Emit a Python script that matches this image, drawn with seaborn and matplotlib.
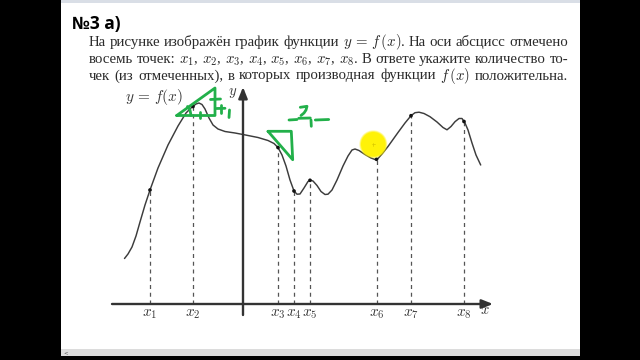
import matplotlib
matplotlib.use("Agg")
import matplotlib.pyplot as plt
import seaborn as sns
import pandas as pd
from matplotlib.patches import Rectangle, Circle

# ---------------- data (function units, 1 unit = 10 px of the picture) ----
curve_x = [-11.85, -11.5, -11.1, -10.7, -10.3, -9.8, -9.3, -8.5, -7.5, -6.5,
           -5.7, -5.1, -4.7, -4.4, -4.1, -3.8, -3.4, -3.0, -2.5, -1.8, -0.8,
           0.0, 1.5, 2.5, 3.1, 3.5, 3.9, 4.3, 4.7, 5.1, 5.4, 5.7, 6.1, 6.5,
           6.75, 7.0, 7.4, 7.8, 8.2, 8.5, 8.9, 9.4, 10.0, 10.5, 10.9, 11.2,
           11.6, 12.2, 12.8, 13.2, 13.5, 13.9, 14.5, 15.5, 16.2, 16.8, 17.2,
           17.6, 18.1, 18.7, 19.4, 20.0, 20.4, 20.8, 21.2, 21.6, 21.9, 22.2,
           22.5, 22.9, 23.3, 23.77]
curve_y = [4.55, 5.0, 5.7, 6.8, 8.2, 9.9, 11.4, 13.6, 15.9, 17.8,
           19.1, 19.7, 20.0, 20.1, 19.95, 19.5, 18.6, 17.9, 17.5, 17.25, 17.1,
           16.95, 16.65, 16.35, 16.05, 15.65, 14.9, 13.8, 12.4, 11.3, 10.98, 11.0, 11.6, 12.25,
           12.37, 12.3, 11.85, 11.25, 10.95, 10.98, 11.4, 12.4, 13.8, 14.8, 15.4, 15.5,
           15.35, 14.95, 14.6, 14.45, 14.55, 15.0, 15.75, 17.15, 18.1, 18.83, 19.13,
           19.18, 19.05, 18.73, 18.2, 17.65, 17.42, 17.75, 18.23, 18.55, 18.55, 18.1,
           17.4, 16.1, 14.9, 13.9]

point_labels = ["$x_1$", "$x_2$", "$x_3$", "$x_4$", "$x_5$", "$x_6$", "$x_7$", "$x_8$"]
point_x = [-9.3, -5.0, 3.5, 5.1, 6.7, 13.35, 16.8, 22.1]
point_y = [11.4, 19.75, 15.65, 11.3, 12.37, 14.47, 18.83, 18.25]

title_text = "№3 а)"
body_lines = [
    ["На", "рисунке", "изображён", "график", "функции", r"$y\,=\,f\,(x)$.", "На", "оси",
     "абсцисс", "отмечено"],
    ["восемь", "точек:", "$x_1$,", "$x_2$,", "$x_3$,", "$x_4$,", "$x_5$,", "$x_6$,", "$x_7$,",
     "$x_8$.", "В", "ответе", "укажите", "количество", "то-"],
    ["чек", "(из", "отмеченных),", "в", "которых", "производная", "функции", r"$f\,(x)$",
     "положительна."],
]

# ---------------- style ----------------
sns.set_theme(style="white")
plt.rcParams['font.family'] = ['Liberation Serif', 'DejaVu Serif']
plt.rcParams['mathtext.fontset'] = 'cm'

W, H = 640, 360
fig = plt.figure(figsize=(6.4, 3.6), dpi=100, facecolor='black')

def fx(px):
    return px / W

def fy(py):
    return 1 - py / H

# page background, top strip and bottom scrollbar
fig.patches.append(Rectangle((fx(61), fy(349)), (579.5 - 61) / W, 349 / H,
                             transform=fig.transFigure, facecolor='white',
                             edgecolor='none', zorder=-5))
fig.patches.append(Rectangle((fx(61), fy(2.5)), (579.5 - 61) / W, 2.5 / H,
                             transform=fig.transFigure, facecolor='#d9dee6',
                             edgecolor='none', zorder=-4))
fig.patches.append(Rectangle((fx(61), fy(355.5)), (579.5 - 61) / W, 6.5 / H,
                             transform=fig.transFigure, facecolor='#dcdcdc',
                             edgecolor='none', zorder=-4))
fig.text(fx(63), fy(353), "<", fontsize=4, color='#555', family='DejaVu Sans',
         va='center')

# ---------------- main graph axes ----------------
ax = fig.add_axes([fx(103), fy(344), 410 / W, 270 / H])
ax.set_xlim(-14, 27)
ax.set_ylim(-4, 23)
ax.set_facecolor('none')
ax.axis('off')

axis_col = '#333333'
ax.annotate('', xy=(25.0, 0), xytext=(-13.1, 0),
            arrowprops=dict(arrowstyle='-|>,head_length=0.55,head_width=0.22',
                            lw=1.7, color=axis_col, shrinkA=0, shrinkB=0))
ax.annotate('', xy=(0, 21.7), xytext=(0, -1.1),
            arrowprops=dict(arrowstyle='-|>,head_length=0.55,head_width=0.22',
                            lw=1.7, color=axis_col, shrinkA=0, shrinkB=0))

ax.vlines(point_x, 0, point_y, colors='#555555', linestyles=(0, (3.2, 3.0)), lw=0.9)

df_curve = pd.DataFrame({"x": curve_x, "y": curve_y})
sns.lineplot(data=df_curve, x="x", y="y", ax=ax, sort=False, estimator=None,
             color='#3c3c3c', lw=1.05)
df_pts = pd.DataFrame({"x": point_x, "y": point_y})
sns.scatterplot(data=df_pts, x="x", y="y", ax=ax, color='#111111', s=7,
                edgecolor='none', zorder=5)
ax.axis('off')

lab_col = '#3a3a3a'
for lab, xv in zip(point_labels, point_x):
    ax.text(xv, -1.25, lab, ha='center', va='baseline', fontsize=11, color=lab_col)
ax.text(24.2, -0.65, "$x$", ha='center', va='center', fontsize=10.5, color=lab_col)
ax.text(-1.05, 21.1, "$y$", ha='center', va='center', fontsize=10.5, color=lab_col)
ax.text(-8.9, 20.7, r"$y\,=\,f(x)$", ha='center', va='center', fontsize=11, color=lab_col)

# ---------------- text ----------------
fig.text(fx(72.5), fy(29.5), title_text, fontsize=12.5, fontweight='bold',
         family=['Open Sans', 'DejaVu Sans'], color='black', va='baseline')

renderer = fig.canvas.get_renderer()
baselines = [46, 63, 79.5]
x_left, x_right = 89, 568
for words, base in zip(body_lines, baselines):
    texts = [fig.text(0, 0, w, fontsize=10.7, color='#2b2b2b', va='baseline')
             for w in words]
    widths = [t.get_window_extent(renderer).width for t in texts]
    gap = (x_right - x_left - sum(widths)) / (len(words) - 1)
    xpos = x_left
    for t, wd in zip(texts, widths):
        t.set_position((fx(xpos), fy(base)))
        xpos += wd + gap

# ---------------- hand-drawn overlay (pixel space) ----------------
ov = fig.add_axes([0, 0, 1, 1])
ov.set_xlim(0, W)
ov.set_ylim(H, 0)
ov.set_facecolor('none')
ov.axis('off')

g = '#22b04a'
glw = 2.0
strokes = [
    [(176.7, 115.5), (215, 88), (215, 115.5), (176.7, 115.5)],
    [(187.5, 106.5), (190, 110), (191, 115.5)],
    [(200, 111.5), (200, 117.5)],
    [(210.5, 99.5), (220.5, 99.0)],
    [(216.5, 108.5), (225, 108.3)],
    [(221, 104.5), (221, 113)],
    [(229.5, 110), (229, 117.5)],
    [(268, 131.3), (291.3, 131.3), (292.7, 159.7), (268, 131.3)],
    [(289, 120), (297, 119.5)],
    [(300.3, 107.3), (307, 106.3), (306, 110), (304, 113), (301, 115.5)],
    [(298.7, 118.3), (310.3, 118.0)],
    [(311, 120), (311.3, 126.3)],
    [(315.3, 120), (328.7, 119.5)],
]
for s in strokes:
    xs, ys = zip(*s)
    ov.plot(xs, ys, color=g, lw=glw, solid_capstyle='round', solid_joinstyle='round')

# yellow cursor highlight
for r, a in [(14.0, 0.3), (13.2, 0.55), (12.3, 0.9)]:
    ov.add_patch(Circle((373.3, 144.3), r, facecolor='#fff200', edgecolor='none',
                        alpha=a, zorder=6))
ov.plot([371.5, 375.1], [144.3, 144.3], color='#d8c800', lw=0.5, zorder=7)
ov.plot([373.3, 373.3], [142.5, 146.1], color='#d8c800', lw=0.5, zorder=7)

fig.savefig("out.png", dpi=100, facecolor=fig.get_facecolor())
